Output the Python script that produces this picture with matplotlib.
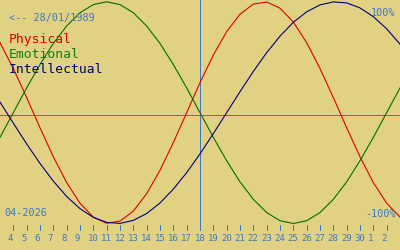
import matplotlib
matplotlib.use('Agg')
import matplotlib.pyplot as plt

# Biorritmo, abril 2026 (nacimiento 28/01/1989). Un valor por dia, del 3 de abril al 3 de mayo
dias = [3, 4, 5, 6, 7, 8, 9, 10, 11, 12, 13, 14, 15, 16, 17, 18,
        19, 20, 21, 22, 23, 24, 25, 26, 27, 28, 29, 30, 31, 32, 33]
fisico = [0.631, 0.398, 0.136, -0.136, -0.398, -0.631, -0.817, -0.942, -0.998, -0.979,
          -0.888, -0.731, -0.520, -0.270, 0.0, 0.270, 0.520, 0.731, 0.888, 0.979,
          0.998, 0.942, 0.817, 0.631, 0.398, 0.136, -0.136, -0.398, -0.631, -0.817, -0.942]
emocional = [-0.223, 0.0, 0.223, 0.434, 0.624, 0.782, 0.901, 0.975, 1.0, 0.975,
             0.901, 0.782, 0.624, 0.434, 0.223, 0.0, -0.223, -0.434, -0.624, -0.782,
             -0.901, -0.975, -1.0, -0.975, -0.901, -0.782, -0.624, -0.434, -0.223, 0.0, 0.223]
intelectual = [0.095, -0.095, -0.282, -0.458, -0.618, -0.756, -0.866, -0.945, -0.990, -0.999,
               -0.972, -0.910, -0.815, -0.690, -0.541, -0.372, -0.189, 0.0, 0.189, 0.372,
               0.541, 0.690, 0.815, 0.910, 0.972, 0.999, 0.990, 0.945, 0.866, 0.756, 0.618]

dias_ticks = [4, 5, 6, 7, 8, 9, 10, 11, 12, 13, 14, 15, 16, 17, 18, 19, 20,
              21, 22, 23, 24, 25, 26, 27, 28, 29, 30, 31, 32]
etiquetas = ['4', '5', '6', '7', '8', '9', '10', '11', '12', '13', '14', '15', '16', '17', '18',
             '19', '20', '21', '22', '23', '24', '25', '26', '27', '28', '29', '30', '1', '2']
hoy = 18

fondo = '#e1d182'
azul = '#3c78c8'
fuente = 'DejaVu Sans Mono'
grosor = 0.72  # 1 pixel a 100 dpi

fig = plt.figure(figsize=(4, 2.5), dpi=100, facecolor=fondo)
ax = fig.add_axes([0, 0, 1, 1])
ax.set_facecolor(fondo)
ax.set_xlim(3, 33)
ax.set_ylim(-1.2391, 1.0162)
ax.axis('off')

def v(p):
    # fila de pixel -> valor en el eje y
    return (112.65 - p) / 110.85

ax.axhline(v(115), color=azul, lw=grosor, antialiased=False)
ax.vlines(hoy, v(228), v(0), color=azul, lw=grosor, antialiased=False)

ax.plot(dias, fisico, color='#e00000', lw=0.8)
ax.plot(dias, emocional, color='#007000', lw=0.8)
ax.plot(dias, intelectual, color='#000080', lw=0.8)

# marcas de los dias
ax.vlines(dias_ticks, v(230), v(225), color=azul, lw=grosor, antialiased=False)
for d, et in zip(dias_ticks, etiquetas):
    ax.text(d - 0.42, v(241), et, color=azul, fontsize=6.5, family=fuente,
            ha='left', va='baseline')

def txt(x, y, s, color, size, ha='left'):
    ax.text(x / 400, 1 - y / 250, s, transform=ax.transAxes, color=color,
            fontsize=size, family=fuente, ha=ha, va='baseline')

txt(9, 21, '<-- 28/01/1989', azul, 7.3)
txt(395, 16, '100%', azul, 7.3, ha='right')
txt(396, 217, '-100%', azul, 7.3, ha='right')
txt(4, 216, '04-2026', azul, 7.3)
txt(9, 43, 'Physical', '#e00000', 9.4)
txt(9, 58, 'Emotional', '#108010', 9.4)
txt(9, 73, 'Intellectual', '#000080', 9.4)

plt.savefig('out.png', dpi=100, facecolor=fondo)
